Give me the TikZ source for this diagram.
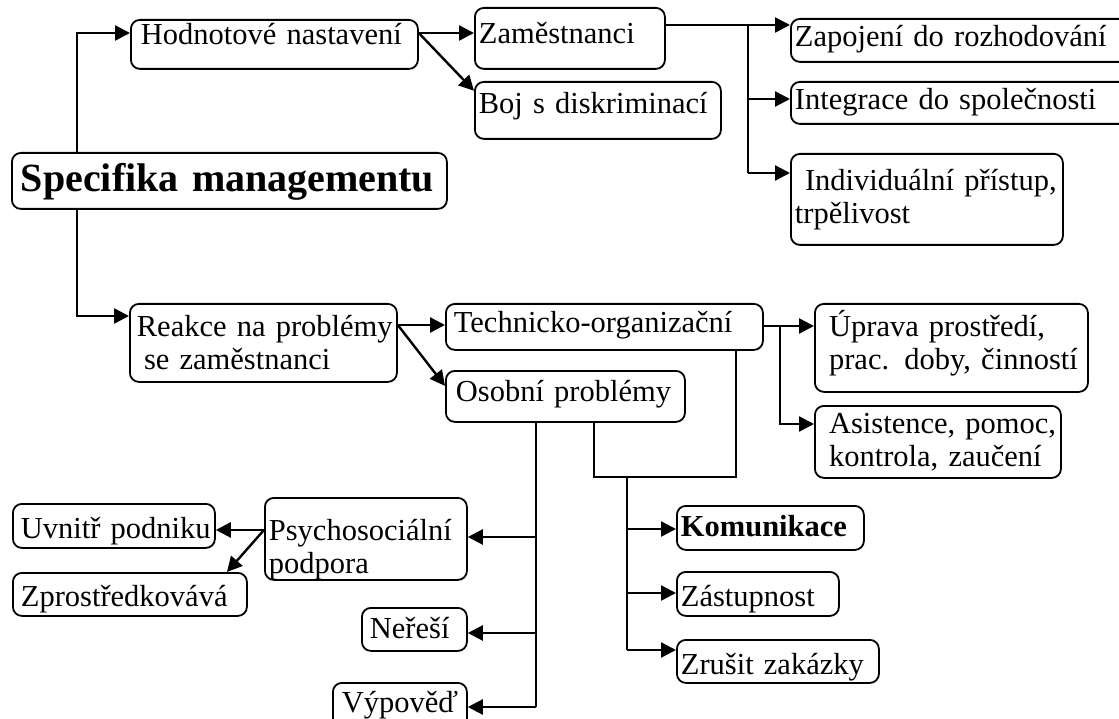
\documentclass[tikz,border=0pt]{standalone}
\usepackage{fontspec}
\setmainfont{Liberation Serif}
\usepackage{tikz}
\usetikzlibrary{arrows.meta}

\begin{document}
\begin{tikzpicture}[x=1pt,y=-1pt,
  box/.style={draw, rounded corners=9pt, line width=1.8pt, anchor=north west,
    align=left, inner xsep=4pt, inner ysep=0pt, font=\fontsize{30.5}{33}\selectfont},
  one/.style={text height=25pt, text depth=7pt},
  line/.style={line width=2.4pt},
  arr/.style={line width=2.4pt, -{Triangle[length=15pt,width=15pt]}}]
\clip (0,0) rectangle (1119,719);

\node(SM)[box, one, text width=427pt, minimum height=56pt, font=\fontsize{40}{44}\selectfont\bfseries, text height=31pt, text depth=9pt] at (11,152) {\hspace{5pt}Specifika managementu};

\node(HN)[box, one, text width=279pt, minimum height=49pt, text depth=24pt] at (130,19) {\hspace{6pt}Hodnotové nastavení};
\node(ZA)[box, one, text width=182pt, minimum height=61pt, text depth=14pt] at (474,7) {Zaměstnanci};
\node(BD)[box, one, text width=238pt, minimum height=57pt, text depth=18pt] at (474,81) {Boj s diskriminací};

\node(ZR)[box, one, text width=332pt, minimum height=43pt, text depth=12pt] at (790,18) {Zapojení do rozhodování};
\node(IS)[box, one, text width=332pt, minimum height=42pt, text depth=11pt] at (790,81) {Integrace do společnosti};
\node(IP)[box, text width=264pt, minimum height=91pt] at (790,153) {\ Individuální přístup,\\trpělivost};

\node(RP)[box, text width=259pt, minimum height=78pt] at (129,303) {\hspace{3pt}Reakce na problémy\\ \ se zaměstnanci};
\node(TO)[box, one, text width=309pt, minimum height=46pt, text depth=13pt] at (445,303) {\hspace{4pt}Technicko-organizační};
\node(OP)[box, one, text width=231pt, minimum height=51pt, text depth=14pt] at (445,370) {\hspace{6pt}Osobní problémy};

\node(UP)[box, text width=265pt, minimum height=88pt] at (814,303) {\ Úprava prostředí,\\ \ prac. doby, činností\rule[-16pt]{0pt}{0pt}};
\node(AP)[box, text width=238pt, minimum height=72pt] at (814,405) {\ Asistence, pomoc,\\ \ kontrola, zaučení};

\node(PP)[box, text width=194pt, minimum height=82pt] at (264,497) {\rule{0pt}{42pt}Psychosociální\\podpora};
\node(UV)[box, one, text width=194pt, minimum height=44pt, text height=32pt] at (12,503) {\hspace{4pt}Uvnitř podniku};
\node(ZP)[box, one, text width=226pt, minimum height=43pt, text height=31pt] at (12,572) {\hspace{4pt}Zprostředkovává};
\node(NR)[box, one, text width=97pt, minimum height=43pt] at (361,607) {\hspace{4pt}Neřeší};
\node(VY)[box, one, text width=126pt, minimum height=60pt, text depth=25pt] at (332,682) {\hspace{5pt}Výpověď};

\node(KO)[box, one, text width=179pt, minimum height=44pt, font=\fontsize{30.5}{33}\selectfont\bfseries] at (676,505) {Komunikace};
\node(ZS)[box, one, text width=154pt, minimum height=44pt, text height=32pt] at (676,571) {Zástupnost};
\node(ZK)[box, one, text width=194pt, minimum height=43pt, text height=33pt] at (676,639) {Zrušit zakázky};

\coordinate(J1) at (77,33);
\coordinate(J2) at (77,316);
\draw[arr] (SM.north -| J1) -- (J1) -- (HN.west |- J1);
\draw[arr] (SM.south -| J2) -- (J2) -- (RP.west |- J2);
\draw[arr] (HN.east |- J1) -- (ZA.west |- J1);
\draw[arr] (HN.east |- J1) -- (BD.171);

\coordinate(J3) at (748,25);
\coordinate(J4) at (748,99);
\coordinate(J5) at (748,173);
\draw[arr] (ZA.east |- J3) -- (ZR.west |- J3);
\draw[line] (J3) -- (J5);
\draw[arr] (J4) -- (IS.west |- J4);
\draw[arr] (J5) -- (IP.west |- J5);

\coordinate(J6) at (420,325);
\draw[arr] (RP.east |- J6) -- (TO.west |- J6);
\draw[arr] (RP.east |- J6) -- (OP.175);

\coordinate(J7) at (780,326);
\coordinate(J8) at (780,424);
\draw[arr] (TO.east |- J7) -- (UP.west |- J7);
\draw[arr] (J7) -- (J8) -- (AP.west |- J8);

\coordinate(J9) at (594,477);
\coordinate(J10) at (736,477);
\coordinate(K0) at (627,477);
\coordinate(K1) at (627,529);
\coordinate(K2) at (627,593);
\coordinate(K3) at (627,650);
\draw[line] (OP.south -| J9) -- (J9) -- (J10) -- (TO.south -| J10);
\draw[line] (K0) -- (K3);
\draw[arr] (K1) -- (KO.west |- K1);
\draw[arr] (K2) -- (ZS.west |- K2);
\draw[arr] (K3) -- (ZK.west |- K3);

\coordinate(L1) at (536,537);
\coordinate(L2) at (536,633);
\coordinate(L3) at (536,707);
\draw[line] (OP.south -| L3) -- (L3);
\draw[arr] (L1) -- (PP.east |- L1);
\draw[arr] (L2) -- (NR.east |- L2);
\draw[arr] (L3) -- (VY.east |- L3);

\draw[arr] (PP.175) -- (UV.east |- PP.175);
\draw[arr] (PP.175) -- (ZP.13);
\end{tikzpicture}
\end{document}
